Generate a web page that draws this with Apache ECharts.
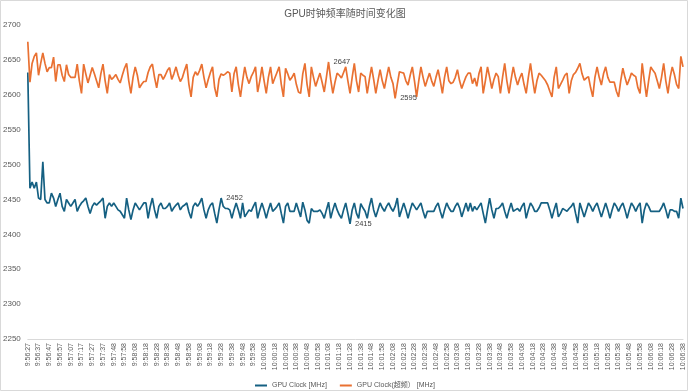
<!DOCTYPE html>
<html>
<head>
<meta charset="utf-8">
<script src="https://cdn.jsdelivr.net/npm/echarts@6/dist/echarts.min.js"></script>
<style>
html,body{margin:0;padding:0;background:#fff;}
#chart{width:690px;height:392px;}
</style>
</head>
<body>
<div id="chart"></div>
<script>
const titleText = 'GPU时钟频率随时间变化图';
const seriesNames = ['GPU Clock [MHz]', 'GPU Clock(超频） [MHz]'];
const tickLabels = [
'9:56:27','9:56:37','9:56:47','9:56:57','9:57:07','9:57:17','9:57:27','9:57:37','9:57:48','9:57:58',
'9:58:08','9:58:18','9:58:28','9:58:38','9:58:48','9:58:58','9:59:08','9:59:18','9:59:28','9:59:38',
'9:59:48','9:59:58','10:00:08','10:00:18','10:00:28','10:00:38','10:00:48','10:00:58','10:01:08','10:01:18',
'10:01:28','10:01:38','10:01:48','10:01:58','10:02:08','10:02:18','10:02:28','10:02:38','10:02:48','10:02:58',
'10:03:08','10:03:18','10:03:28','10:03:38','10:03:48','10:03:58','10:04:08','10:04:18','10:04:28','10:04:38',
'10:04:48','10:04:58','10:05:08','10:05:18','10:05:28','10:05:38','10:05:48','10:05:58','10:06:08','10:06:18',
'10:06:28','10:06:38'
];
const samplesPerTick = 5;

const gpuClock = [
2632,2466,2475,2466,2475,2452,2450,2504,2450,2445,
2445,2459,2452,2440,2450,2459,2440,2433,2450,2445,
2440,2445,2450,2433,2440,2445,2448,2452,2440,2430,
2440,2445,2442,2445,2448,2452,2423,2440,2445,2440,
2445,2440,2435,2433,2428,2423,2452,2435,2421,2435,
2445,2440,2435,2440,2445,2445,2423,2440,2452,2435,
2423,2440,2445,2437,2437,2440,2445,2433,2438,2442,
2445,2435,2440,2442,2445,2432,2423,2440,2445,2440,
2445,2452,2435,2423,2435,2442,2445,2430,2416,2435,
2452,2440,2437,2437,2435,2423,2435,2445,2435,2423,
2445,2425,2430,2435,2433,2440,2446,2423,2435,2445,
2435,2423,2435,2445,2433,2436,2440,2445,2430,2416,
2440,2445,2433,2433,2433,2445,2435,2425,2446,2435,
2420,2416,2437,2433,2433,2433,2435,2430,2423,2435,
2446,2423,2435,2445,2435,2428,2423,2435,2445,2430,
2415,2435,2445,2430,2423,2444,2438,2433,2423,2440,
2452,2435,2425,2435,2445,2438,2433,2440,2445,2438,
2433,2440,2452,2425,2435,2445,2435,2423,2435,2445,
2440,2435,2440,2445,2433,2423,2433,2433,2433,2433,
2440,2445,2433,2423,2435,2445,2438,2433,2433,2440,
2445,2438,2425,2435,2445,2433,2445,2433,2440,2435,
2440,2445,2430,2416,2435,2452,2435,2423,2437,2437,
2440,2445,2433,2423,2435,2445,2433,2435,2437,2433,
2440,2445,2423,2435,2445,2440,2433,2433,2438,2445,
2445,2445,2445,2435,2423,2435,2445,2425,2430,2437,
2435,2433,2437,2440,2445,2430,2416,2445,2435,2425,
2435,2445,2440,2433,2440,2445,2435,2425,2435,2445,
2435,2423,2435,2445,2440,2433,2440,2445,2435,2423,
2435,2445,2440,2433,2440,2445,2416,2435,2445,2440,
2433,2433,2433,2433,2433,2438,2445,2435,2423,2435,
2435,2433,2433,2423,2452,2437
];

const gpuClockOC = [
2676,2618,2645,2655,2660,2628,2645,2660,2645,2633,
2639,2639,2654,2619,2643,2643,2628,2619,2643,2629,
2625,2625,2625,2644,2620,2602,2644,2630,2617,2628,
2639,2630,2620,2610,2630,2644,2620,2602,2629,2622,
2625,2629,2622,2617,2628,2638,2645,2620,2602,2625,
2640,2628,2610,2615,2619,2619,2632,2640,2644,2625,
2610,2629,2629,2622,2628,2635,2639,2622,2630,2640,
2628,2619,2625,2635,2644,2615,2597,2625,2633,2628,
2635,2644,2625,2610,2622,2632,2640,2610,2597,2622,
2630,2628,2630,2633,2631,2604,2630,2640,2615,2597,
2620,2640,2625,2616,2626,2632,2640,2604,2620,2640,
2620,2602,2625,2640,2616,2624,2632,2640,2615,2597,
2638,2630,2621,2625,2631,2615,2604,2602,2630,2645,
2615,2597,2640,2625,2612,2622,2631,2618,2604,2625,
2647,2622,2602,2618,2631,2628,2624,2632,2640,2620,
2602,2625,2645,2620,2604,2631,2628,2626,2602,2622,
2640,2622,2602,2620,2636,2620,2609,2625,2640,2625,
2616,2595,2615,2633,2632,2631,2620,2614,2628,2640,
2620,2597,2620,2640,2625,2612,2622,2631,2620,2612,
2625,2636,2620,2602,2625,2640,2620,2616,2618,2625,
2636,2620,2609,2618,2626,2631,2631,2616,2624,2612,
2630,2640,2602,2620,2640,2625,2609,2622,2631,2626,
2602,2625,2645,2620,2602,2622,2640,2625,2614,2624,
2631,2615,2602,2625,2645,2622,2602,2620,2631,2628,
2624,2620,2614,2605,2597,2625,2640,2609,2615,2621,
2628,2631,2602,2620,2629,2632,2638,2645,2630,2621,
2624,2626,2610,2597,2625,2640,2625,2614,2630,2640,
2625,2618,2618,2618,2605,2597,2620,2638,2625,2614,
2622,2631,2628,2626,2610,2602,2645,2620,2597,2620,
2640,2635,2631,2620,2609,2625,2645,2620,2602,2625,
2640,2629,2615,2609,2655,2640
];

// indices of points carrying a value label
const gpuClockLabelIdx = [90, 150];
const gpuClockOCLabelIdx = [140, 171];

const yTicks = { min: 2250, max: 2700, step: 50 };

// build one category per sample; only the tick ones get shown
const categories = [];
tickLabels.forEach((t, i) => {
  categories.push(t);
  if (i < tickLabels.length - 1) {
    for (let k = 1; k < samplesPerTick; k++) categories.push(t + '#' + k);
  }
});

const FONT = "'Liberation Sans','Noto Sans CJK SC',sans-serif";
const labelStyle = { show: true, position: 'right', distance: 5, fontSize: 7.5, color: '#404040', fontFamily: FONT };

function withLabels(vals, idx) {
  return vals.map((v, i) => idx.includes(i) ? { value: v, label: labelStyle } : v);
}

const chart = echarts.init(document.getElementById('chart'), null, { renderer: 'canvas' });
chart.setOption({
  animation: false,
  backgroundColor: '#ffffff',
  title: {
    text: titleText, left: 'center', top: 4,
    textStyle: { fontSize: 10, fontWeight: 'normal', color: '#595959', fontFamily: FONT }
  },
  graphic: [{
    type: 'rect', shape: { x: 0.5, y: 0.5, width: 687, height: 390 },
    style: { fill: 'none', stroke: '#d9d9d9', lineWidth: 1 }, silent: true, z: -1
  }],
  legend: {
    top: 377, left: 'center', icon: 'rect', itemWidth: 12, itemHeight: 2, itemGap: 13,
    textStyle: { fontSize: 7, color: '#595959', fontFamily: FONT },
    data: seriesNames
  },
  grid: { left: 27.5, right: 7, top: 25, bottom: 53, containLabel: false },
  xAxis: {
    type: 'category', boundaryGap: false, data: categories,
    axisLine: { show: true, lineStyle: { color: '#d9d9d9', width: 1 } },
    axisTick: { show: false },
    axisLabel: { interval: samplesPerTick - 1, rotate: 90, fontSize: 7, color: '#595959', margin: 4, fontFamily: FONT },
    splitLine: { show: false }
  },
  yAxis: {
    type: 'value', min: yTicks.min, max: yTicks.max, interval: yTicks.step,
    axisLine: { show: false }, axisTick: { show: false },
    axisLabel: { fontSize: 8, color: '#595959', margin: 7, fontFamily: FONT, formatter: v => String(v) },
    splitLine: { show: false }
  },
  series: [
    {
      name: seriesNames[0], type: 'line', data: withLabels(gpuClock, gpuClockLabelIdx),
      symbol: 'circle', symbolSize: 0, showSymbol: true, showAllSymbol: true,
      lineStyle: { color: '#156082', width: 1.7 }, itemStyle: { color: '#156082' },
      emphasis: { disabled: true }
    },
    {
      name: seriesNames[1], type: 'line', data: withLabels(gpuClockOC, gpuClockOCLabelIdx),
      symbol: 'circle', symbolSize: 0, showSymbol: true, showAllSymbol: true,
      lineStyle: { color: '#E97132', width: 1.7 }, itemStyle: { color: '#E97132' },
      emphasis: { disabled: true }
    }
  ]
});
</script>
</body>
</html>
